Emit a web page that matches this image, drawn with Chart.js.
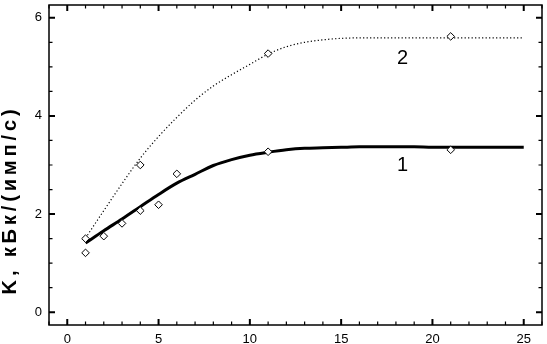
<!DOCTYPE html>
<html>
<head>
<meta charset="utf-8">
<script src="https://cdn.jsdelivr.net/npm/chart.js@4.4.1/dist/chart.umd.min.js"></script>
<style>
  html, body { margin: 0; padding: 0; background: #fff; }
  #graf { display: block; }
</style>
</head>
<body>
<canvas id="graf" width="547" height="344"></canvas>
<script>
// measured points
const ptsX1 = [1, 2, 3, 4, 5, 6, 11, 21];
const ptsY1 = [1.21, 1.55, 1.81, 2.07, 2.19, 2.82, 3.27, 3.31];
const ptsX2 = [1, 4, 11, 21];
const ptsY2 = [1.50, 3.00, 5.27, 5.62];

// fitted curves
const fitX = [1, 2, 3, 4, 5, 6, 7, 8, 9, 10, 11, 12, 13, 14, 15, 16, 17, 18, 19, 20, 21, 22, 23, 24, 25];
const fitY1 = [1.41, 1.66, 1.90, 2.15, 2.40, 2.63, 2.81, 2.99, 3.11, 3.20, 3.26, 3.31, 3.34, 3.35, 3.36, 3.37, 3.37, 3.37, 3.37, 3.36, 3.36, 3.36, 3.36, 3.36, 3.36];
const fitY2 = [1.51, 2.07, 2.62, 3.14, 3.58, 3.97, 4.32, 4.61, 4.84, 5.05, 5.26, 5.41, 5.50, 5.55, 5.58, 5.59, 5.59, 5.59, 5.59, 5.59, 5.59, 5.59, 5.59, 5.59, 5.59];

const xTicks = [0, 5, 10, 15, 20, 25];
const yTicks = [0, 2, 4, 6];
const yTitle = 'K, кБк/(имп/с)';
const curveLabels = ['1', '2'];
const curveLabelX = [18.36, 18.36];
const curveLabelY = [2.98, 5.17];

function pares(xs, ys) {
    return xs.map((v, i) => ({ x: v, y: ys[i] }));
}

const fontTicks = { family: 'Liberation Sans, Arial, sans-serif', size: 13 };

const marcoTicks = {
    id: 'marcoTicks',
    afterDraw(chart) {
        const { ctx, chartArea: a, scales: { x, y } } = chart;
        ctx.save();
        ctx.strokeStyle = '#000';
        ctx.lineWidth = 1.5;
        ctx.strokeRect(a.left, a.top, a.right - a.left, a.bottom - a.top);

        // x ticks, inward, bottom and top
        for (let v = Math.ceil(x.min); v <= x.max; v += 1) {
            const px = x.getPixelForValue(v);
            const major = xTicks.includes(v);
            const len = major ? 6 : 3.5;
            ctx.lineWidth = major ? 2 : 1.2;
            ctx.beginPath();
            ctx.moveTo(px, a.bottom);
            ctx.lineTo(px, a.bottom - len);
            ctx.moveTo(px, a.top);
            ctx.lineTo(px, a.top + len);
            ctx.stroke();
        }
        // y ticks, inward, left and right
        for (let v = Math.ceil(y.min * 2) / 2; v <= y.max; v += 0.5) {
            const py = y.getPixelForValue(v);
            const major = yTicks.includes(v);
            const len = major ? 6 : 3.5;
            ctx.lineWidth = major ? 2 : 1.2;
            ctx.beginPath();
            ctx.moveTo(a.left, py);
            ctx.lineTo(a.left + len, py);
            ctx.moveTo(a.right, py);
            ctx.lineTo(a.right - len, py);
            ctx.stroke();
        }

        ctx.fillStyle = '#000';
        ctx.font = '20px Liberation Sans, Arial, sans-serif';
        ctx.textAlign = 'center';
        ctx.textBaseline = 'middle';
        curveLabels.forEach((t, i) => {
            ctx.fillText(t, x.getPixelForValue(curveLabelX[i]), y.getPixelForValue(curveLabelY[i]));
        });

        // y axis title, rotated
        ctx.translate(10, 200);
        ctx.rotate(-Math.PI / 2);
        ctx.font = 'bold 20px Liberation Sans, Arial, sans-serif';
        const w = ctx.measureText(yTitle).width;
        ctx.letterSpacing = Math.max(0, (185 - w) / (yTitle.length - 1)) + 'px';
        ctx.fillText(yTitle, 0, 0);
        ctx.restore();
    }
};

const config = {
    type: 'scatter',
    data: {
        datasets: [
            {
                label: 'puntos 1',
                data: pares(ptsX1, ptsY1),
                pointStyle: 'rectRot',
                pointRadius: 3.8,
                pointBorderWidth: 1,
                pointBorderColor: '#000',
                pointBackgroundColor: '#fff',
                order: 0
            },
            {
                label: 'puntos 2',
                data: pares(ptsX2, ptsY2),
                pointStyle: 'rectRot',
                pointRadius: 3.8,
                pointBorderWidth: 1,
                pointBorderColor: '#000',
                pointBackgroundColor: '#fff',
                order: 0
            },
            {
                label: 'curva 1',
                data: pares(fitX, fitY1),
                showLine: true,
                borderColor: '#000',
                borderWidth: 3,
                pointRadius: 0,
                cubicInterpolationMode: 'monotone',
                order: 1
            },
            {
                label: 'curva 2',
                data: pares(fitX, fitY2),
                showLine: true,
                borderColor: '#000',
                borderWidth: 1.2,
                borderDash: [1.2, 2.3],
                pointRadius: 0,
                cubicInterpolationMode: 'monotone',
                order: 1
            }
        ]
    },
    options: {
        responsive: false,
        animation: false,
        layout: { padding: { top: 1, right: 1, left: 0, bottom: 0 } },
        plugins: {
            legend: { display: false },
            tooltip: { enabled: false }
        },
        scales: {
            x: {
                type: 'linear',
                min: -1,
                max: 26,
                afterBuildTicks: (s) => { s.ticks = xTicks.map(v => ({ value: v })); },
                afterFit: (s) => { s.height = 19; s.paddingLeft = 0; s.paddingRight = 0; },
                grid: { display: false, drawTicks: false },
                border: { display: false },
                ticks: { color: '#000', font: fontTicks, padding: 7, maxRotation: 0 }
            },
            y: {
                type: 'linear',
                min: -0.26,
                max: 6.26,
                afterBuildTicks: (s) => { s.ticks = yTicks.map(v => ({ value: v })); },
                afterFit: (s) => { s.width = 49; s.paddingTop = 0; s.paddingBottom = 0; },
                grid: { display: false, drawTicks: false },
                border: { display: false },
                ticks: { color: '#000', font: fontTicks, padding: 7 }
            }
        }
    },
    plugins: [marcoTicks]
};

const ctx = document.getElementById('graf').getContext('2d');
window.grafInstance = new Chart(ctx, config);
</script>
</body>
</html>
